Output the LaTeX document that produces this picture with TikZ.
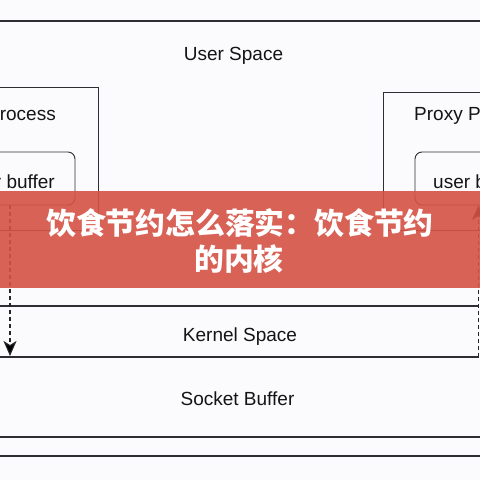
\documentclass[tikz,border=0pt]{standalone}
\usepackage{fontspec}
\setmainfont{Liberation Sans}
\newfontfamily\cjk{Noto Sans CJK SC}
\usetikzlibrary{arrows.meta}
\definecolor{bgcol}{RGB}{251,251,253}
\definecolor{linecol}{RGB}{45,45,50}
\definecolor{bannercol}{RGB}{214,82,70}
\tikzset{
  sepline/.style={draw=linecol, line width=1.3pt},
  procbox/.style={draw=linecol, line width=0.9pt, minimum width=178pt, inner sep=0},
  bufbox/.style={draw=linecol, line width=0.9pt, rounded corners=7pt, minimum width=135pt, minimum height=53pt, inner sep=0},
  lbl/.style={inner sep=0, font=\fontsize{19}{22}\selectfont, text=black!92},
  flow/.style={draw=black!85, line width=1.1pt, dash pattern=on 4pt off 3pt, -{Stealth[length=15pt,width=13pt,inset=4pt,fill=black]}},
  bantext/.style={inner sep=0, text=white, font=\cjk\bfseries\fontsize{29.8}{34}\selectfont}
}
\begin{document}
\begin{tikzpicture}[x=1pt,y=-1pt]
\useasboundingbox (0,0) rectangle (480,480);
\clip (0,0) rectangle (480,480);
\fill[bgcol] (0,0) rectangle (480,480);
% separator lines
\coordinate (t1) at (0,21); \coordinate (t2) at (480,21);
\draw[sepline] (t1) -- (t2);
\coordinate (k1) at (0,306); \coordinate (k2) at (479,306);
\coordinate (k3) at (0,357); \coordinate (k4) at (479,357);
\draw[sepline] (k1) -- (k2);
\draw[sepline] (k3) -- (k4);
\coordinate (s1) at (0,437); \coordinate (s2) at (480,437);
\coordinate (s3) at (0,456); \coordinate (s4) at (480,456);
\draw[sepline] (s1) -- (s2);
\draw[sepline] (s3) -- (s4);
% labels of spaces
\node[lbl] (user) at (233.5,56) {User Space};
\node[lbl] (kernel) at (240,337) {Kernel Space};
\node[lbl] (socket) at (237.5,399) {Socket Buffer};
% process boxes
\node[procbox, minimum height=143pt] (lproc) at (9,158.5) {};
\node[procbox, minimum height=138pt] (rproc) at (472,161) {};
\node[lbl, anchor=east] (lproct) at (56,114) {Process};
\node[lbl, anchor=west] (rproct) at (414,116) {Proxy Process};
% buffer boxes
\node[bufbox] (lbuf) at (7.5,178.5) {};
\node[bufbox] (rbuf) at (482.5,178.5) {};
\node[lbl, anchor=east] (lbuft) at (55,182) {user buffer};
\node[lbl, anchor=west] (rbuft) at (433,182) {user buffer};
% flows
\coordinate (la) at (10,205);
\coordinate (lb) at (10,356);
\draw[flow] (la) -- (lb);
\coordinate (ra) at (478.5,357);
\coordinate (rb) at (478.5,205);
\draw[flow] (ra) -- (rb);
% banner
\fill[bannercol, opacity=0.9] (0,191) rectangle (480,288);
\node[bantext] (b1) at (240,223) {饮食节约怎么落实：饮食节约};
\node[bantext] (b2) at (239,259) {的内核};
\end{tikzpicture}
\end{document}
